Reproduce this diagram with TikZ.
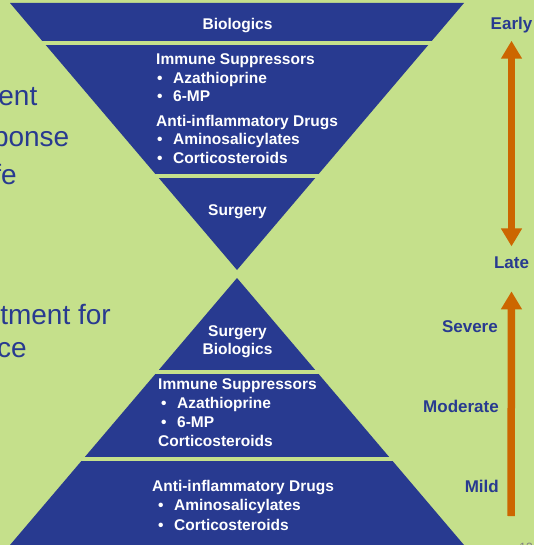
\documentclass[tikz,border=0pt]{standalone}
\usepackage{fontspec}
\setmainfont{Liberation Sans}
\usetikzlibrary{arrows.meta}
\definecolor{hgblue}{RGB}{40,58,144}
\definecolor{hggreen}{RGB}{197,224,139}
\definecolor{hgorange}{RGB}{204,102,0}
% bullet line inside a band: optional indent, then bullet and item
\newcommand{\hgitem}[2][1pt]{\hspace*{#1}\makebox[16pt][l]{\textbullet}#2}

\begin{document}
\begin{tikzpicture}[x=1pt,y=-1pt,
  band/.style={fill=hgblue},
  bandtext/.style={text=white,inner sep=0pt,font=\bfseries\fontsize{15.5}{18.7}\selectfont},
  sidelabel/.style={text=hgblue,inner sep=0pt,font=\bfseries\fontsize{17}{20}\selectfont},
  slidetext/.style={text=hgblue,inner sep=0pt,font=\fontsize{28}{33}\selectfont,anchor=base east},
  orarrow/.style={draw=hgorange,line width=7.5pt,-{Triangle[width=20pt,length=18pt]}}]
\useasboundingbox (0,0) rectangle (534,545);
\clip (0,0) rectangle (534,545);
\fill[hggreen] (0,0) rectangle (534,545);

% upper (inverted) triangle, cut into three bands
\begin{scope}
  \clip (10,3) -- (464,3) -- (237,270) -- cycle;
  \fill[band] (0,0) rectangle (534,40.7);
  \fill[band] (0,45) rectangle (534,174);
  \fill[band] (0,178.3) rectangle (534,280);
\end{scope}
% lower triangle
\begin{scope}
  \clip (237,278) -- (464,545) -- (10,545) -- cycle;
  \fill[band] (0,270) rectangle (534,370);
  \fill[band] (0,374.3) rectangle (534,456.7);
  \fill[band] (0,461) rectangle (534,560);
\end{scope}

% band texts, top
\node[bandtext,anchor=base] (topbio) at (237.5,29.3) {Biologics};
\node[bandtext,anchor=north west,align=left] (topdrugs) at (156,53.3)
  {Immune Suppressors\\ \hgitem{Azathioprine}\\ \hgitem{6-MP}\\[5.6pt]
   Anti-inflammatory Drugs\\ \hgitem{Aminosalicylates}\\ \hgitem{Corticosteroids}};
\node[bandtext,anchor=base] (topsurg) at (237.5,215.7) {Surgery};

% band texts, bottom
\node[bandtext,anchor=north,align=center] (botsurg) at (237.5,325)
  {Surgery\\[-0.4pt]Biologics};
\node[bandtext,anchor=north west,align=left,font=\bfseries\fontsize{15.5}{19.1}\selectfont]
  (botimmune) at (158,378.6)
  {Immune Suppressors\\ \hgitem[3pt]{Azathioprine}\\ \hgitem[3pt]{6-MP}\\ Corticosteroids};
\node[bandtext,anchor=north west,align=left,font=\bfseries\fontsize{15.5}{19.5}\selectfont]
  (botanti) at (152,479.8)
  {Anti-inflammatory Drugs\\ \hgitem[6pt]{Aminosalicylates}\\ \hgitem[6pt]{Corticosteroids}};

% timing and severity scales
\node[sidelabel,anchor=base] (early) at (511.5,30) {Early};
\node[sidelabel,anchor=base] (late) at (511.5,268.3) {Late};
\node[sidelabel,anchor=base east] (severe) at (498,332.7) {Severe};
\node[sidelabel,anchor=base east] (moderate) at (499,412.7) {Moderate};
\node[sidelabel,anchor=base east] (mild) at (499,492.7) {Mild};
\coordinate (sevbase) at (511,516);
\draw[orarrow,{Triangle[width=20pt,length=18pt]}-{Triangle[width=20pt,length=18pt]}]
  ([yshift=-7pt]early.south) -- ([yshift=10pt]late.north);
\draw[orarrow] (sevbase) -- ([yshift=-22.7pt]late.south);

% slide text running in from the left
\node[slidetext] (body1) at (37.5,106) {ent};
\node[slidetext] (body2) at (69.5,146.5) {ponse};
\node[slidetext] (body3) at (17,185) {fe};
\node[slidetext] (body4) at (111,324) {tment for};
\node[slidetext] (body5) at (27,357) {ce};

\node[anchor=base east,inner sep=0pt,text=gray,font=\fontsize{12}{14}\selectfont]
  (pagenum) at (533,551.5) {13};
\end{tikzpicture}
\end{document}
